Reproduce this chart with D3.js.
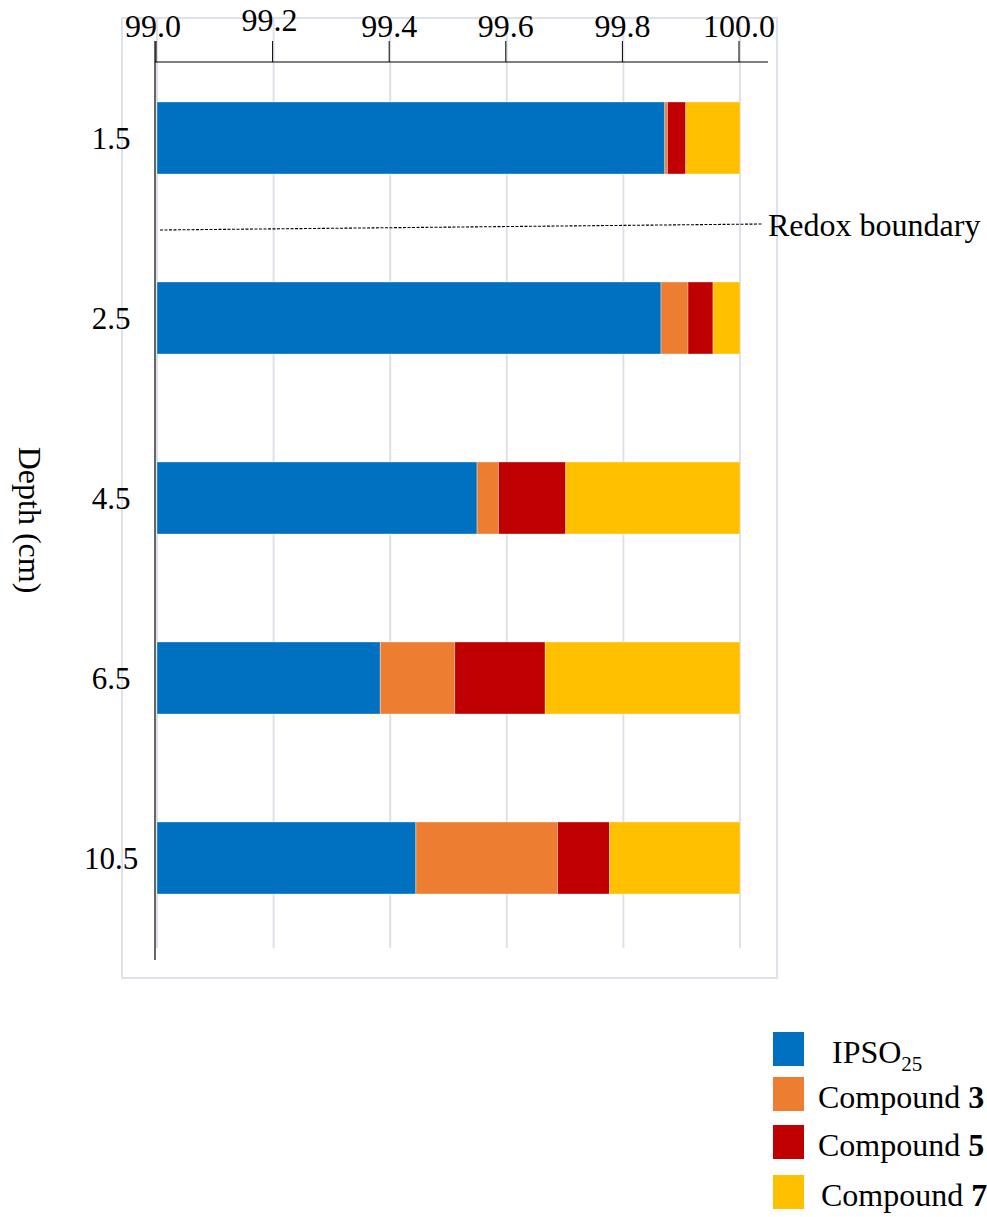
<!DOCTYPE html>
<html><head><meta charset="utf-8">
<script src="https://cdn.jsdelivr.net/npm/d3@7"></script>
<style>
html,body{margin:0;padding:0;background:#fff;}
svg{display:block;font-family:"Liberation Serif","Times New Roman",serif;}
</style></head>
<body><svg id="chart" width="987" height="1217"></svg>
<script>
const depths = ["1.5","2.5","4.5","6.5","10.5"];
const ipso  = [99.871, 99.8645, 99.549, 99.383, 99.444];
const comp3 = [0.0046, 0.0463, 0.0367, 0.1276, 0.2430];
const comp5 = [0.0314, 0.0429, 0.1154, 0.1554, 0.0892];
const comp7 = [0.0930, 0.0463, 0.2989, 0.3340, 0.2238];
const seriesNames = ["IPSO25","Compound 3","Compound 5","Compound 7"];
const colors = ["#0070C0","#ED7D31","#C00000","#FFC000"];
const xTicks = [99.0, 99.2, 99.4, 99.6, 99.8, 100.0];
const xTickLabels = ["99.0","99.2","99.4","99.6","99.8","100.0"];

const svg = d3.select("#chart");
const x = d3.scaleLinear().domain([99,100]).range([157,740]);
const y = d3.scaleBand().domain(depths).range([48,948]).paddingInner(0.6).paddingOuter(0.3);

const rows = depths.map((d,i)=>({depth:d, "IPSO25":ipso[i], "Compound 3":comp3[i], "Compound 5":comp5[i], "Compound 7":comp7[i]}));
const stack = d3.stack().keys(seriesNames)(rows);

// frame
svg.append("rect").attr("x",122).attr("y",18).attr("width",655).attr("height",960)
  .attr("fill","none").attr("stroke","#dde1e9").attr("stroke-width",2);

// gridlines
svg.append("g").selectAll("line").data(xTicks).join("line")
  .attr("x1",d=>x(d)).attr("x2",d=>x(d)).attr("y1",18).attr("y2",948)
  .attr("stroke","#dde1e9").attr("stroke-width",2);

// bars
svg.append("g").selectAll("g").data(stack).join("g")
  .attr("fill",(d,i)=>colors[i])
  .selectAll("rect").data(d=>d).join("rect")
  .attr("x",d=>x(Math.max(d[0],99)))
  .attr("width",d=>Math.max(0,x(d[1])-x(Math.max(d[0],99))))
  .attr("y",d=>y(d.data.depth))
  .attr("height",y.bandwidth())
  .attr("stroke","rgba(255,255,255,0.35)").attr("stroke-width",1);

// top axis
const ax = svg.append("g");
ax.append("line").attr("x1",x(99)-2).attr("x2",x(100)+28).attr("y1",62).attr("y2",62)
  .attr("stroke","#000").attr("stroke-width",1.2);
ax.selectAll("line.tick").data(xTicks).join("line").attr("class","tick")
  .attr("x1",d=>x(d)-1).attr("x2",d=>x(d)-1).attr("y1",41).attr("y2",62)
  .attr("stroke","#000").attr("stroke-width",1);
ax.selectAll("text").data(xTicks).join("text")
  .attr("x",(d,i)=>x(d)-(i===0||i===1?4:1)).attr("y",(d,i)=>i===1?31:37)
  .attr("text-anchor","middle").attr("font-size",32).attr("fill","#000")
  .text((d,i)=>xTickLabels[i]);
// left vertical line
svg.append("line").attr("x1",x(99)-2).attr("x2",x(99)-2).attr("y1",41).attr("y2",960)
  .attr("stroke","#000").attr("stroke-width",1.2);

// y labels
svg.append("g").selectAll("text").data(depths).join("text")
  .attr("x",111).attr("y",d=>y(d)+y.bandwidth()/2+11)
  .attr("text-anchor","middle").attr("font-size",31).attr("fill","#000")
  .text(d=>d);

// y title
svg.append("text").attr("transform","translate(19,520) rotate(90)")
  .attr("text-anchor","middle").attr("font-size",32).attr("fill","#000")
  .text("Depth (cm)");

// redox boundary
svg.append("line").attr("x1",160).attr("y1",230).attr("x2",762).attr("y2",224)
  .attr("stroke","#000").attr("stroke-width",1.1).attr("stroke-dasharray","3,1.5");
svg.append("text").attr("x",768).attr("y",236).attr("font-size",32).attr("fill","#000")
  .text("Redox boundary");

// legend
const legY = [1032,1077,1125,1175];
const leg = svg.append("g");
seriesNames.forEach((s,i)=>{
  leg.append("rect").attr("x",773).attr("y",legY[i]).attr("width",31).attr("height",34).attr("fill",colors[i]);
  const t = leg.append("text").attr("x", i===0?832:(i===3?821:818)).attr("y",legY[i]+31)
    .attr("font-size",32).attr("fill","#000");
  if(i===0){
    t.append("tspan").text("IPSO");
    t.append("tspan").attr("font-size",21).attr("dy",8).text("25");
  } else {
    const parts = s.split(" ");
    t.append("tspan").text(parts[0]+" ");
    t.append("tspan").attr("font-weight","bold").text(parts[1]);
  }
});
</script></body></html>
